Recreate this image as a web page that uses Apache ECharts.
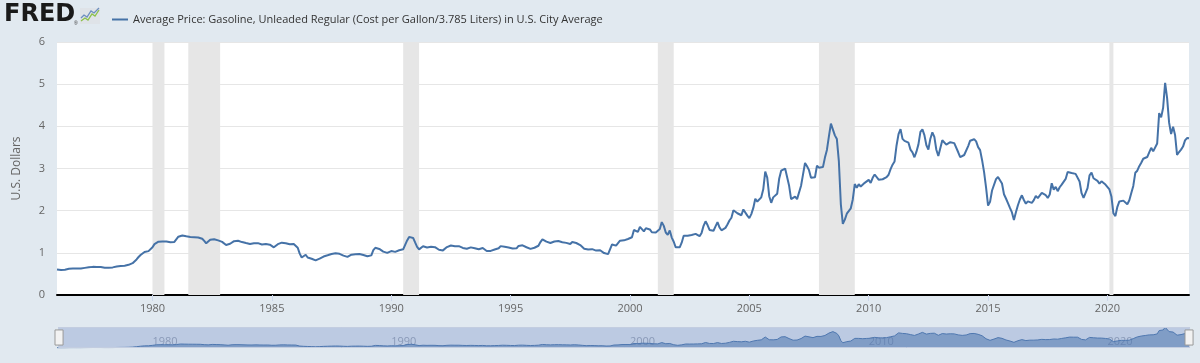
<!DOCTYPE html>
<html>
<head>
<meta charset="utf-8">
<script src="https://cdn.jsdelivr.net/npm/echarts@6/dist/echarts.min.js"></script>
<style>
html,body{margin:0;padding:0;background:#e1e9f0;}
#c{width:1200px;height:363px;}
</style>
</head>
<body>
<div id="c"></div>
<script>
// Monthly values, Jan 1976 .. Jun 2023 (U.S. Dollars per gallon)
const startYear = 1976;
const values = [
  // 1976
  0.605,0.600,0.594,0.592,0.600,0.616,0.623,0.628,0.630,0.629,0.629,0.626,
  // 1977
  0.627,0.637,0.643,0.651,0.659,0.665,0.667,0.667,0.666,0.665,0.664,0.663,
  // 1978
  0.648,0.647,0.647,0.649,0.655,0.663,0.674,0.682,0.688,0.690,0.695,0.705,
  // 1979
  0.716,0.730,0.755,0.802,0.844,0.901,0.949,0.988,1.020,1.028,1.041,1.065,
  // 1980
  1.131,1.207,1.252,1.264,1.266,1.269,1.271,1.267,1.257,1.250,1.250,1.258,
  // 1981
  1.298,1.382,1.417,1.412,1.400,1.391,1.382,1.376,1.376,1.371,1.369,1.365,
  // 1982
  1.358,1.334,1.284,1.225,1.237,1.309,1.331,1.323,1.307,1.295,1.283,1.260,
  // 1983
  1.230,1.187,1.152,1.215,1.259,1.277,1.288,1.285,1.274,1.255,1.241,1.231,
  // 1984
  1.216,1.209,1.210,1.227,1.236,1.229,1.212,1.196,1.203,1.209,1.207,1.193,
  // 1985
  1.148,1.131,1.159,1.205,1.231,1.241,1.242,1.229,1.216,1.204,1.207,1.208,
  // 1986
  1.194,1.120,0.981,0.888,0.923,0.955,0.890,0.843,0.860,0.831,0.821,0.821,
  // 1987
  0.862,0.905,0.912,0.934,0.941,0.958,0.971,0.995,0.990,0.976,0.976,0.961,
  // 1988
  0.933,0.913,0.904,0.930,0.955,0.955,0.967,0.987,0.974,0.957,0.949,0.930,
  // 1989
  0.918,0.926,0.940,1.065,1.119,1.114,1.092,1.057,1.029,1.027,0.999,0.980,
  // 1990
  1.042,1.037,1.023,1.044,1.061,1.088,1.084,1.190,1.294,1.378,1.377,1.354,
  // 1991
  1.247,1.143,1.082,1.104,1.156,1.160,1.127,1.140,1.143,1.122,1.134,1.123,
  // 1992
  1.073,1.054,1.058,1.079,1.136,1.179,1.174,1.158,1.158,1.154,1.159,1.136,
  // 1993
  1.117,1.108,1.098,1.112,1.129,1.130,1.109,1.097,1.085,1.127,1.113,1.070,
  // 1994
  1.043,1.051,1.045,1.064,1.080,1.086,1.109,1.159,1.163,1.143,1.140,1.127,
  // 1995
  1.104,1.102,1.093,1.107,1.164,1.191,1.178,1.144,1.133,1.122,1.094,1.096,
  // 1996
  1.121,1.133,1.168,1.255,1.321,1.297,1.265,1.240,1.234,1.236,1.270,1.282,
  // 1997
  1.279,1.269,1.251,1.240,1.236,1.225,1.208,1.256,1.264,1.233,1.216,1.184,
  // 1998
  1.140,1.098,1.069,1.077,1.094,1.087,1.083,1.053,1.041,1.061,1.052,0.994,
  // 1999
  0.987,0.969,1.004,1.199,1.201,1.170,1.229,1.288,1.305,1.296,1.311,1.329,
  // 2000
  1.301,1.369,1.541,1.506,1.498,1.617,1.593,1.510,1.582,1.559,1.555,1.489,
  // 2001
  1.472,1.484,1.447,1.564,1.729,1.640,1.482,1.427,1.531,1.362,1.263,1.131,
  // 2002
  1.139,1.130,1.241,1.407,1.421,1.404,1.412,1.423,1.422,1.449,1.448,1.394,
  // 2003
  1.473,1.641,1.748,1.659,1.542,1.514,1.524,1.628,1.728,1.603,1.535,1.494,
  // 2004
  1.592,1.672,1.766,1.833,2.009,2.041,1.939,1.898,1.891,2.029,2.010,1.882,
  // 2005
  1.823,1.918,2.065,2.283,2.216,2.176,2.316,2.506,2.927,2.785,2.343,2.186,
  // 2006
  2.315,2.310,2.401,2.757,2.947,2.917,2.999,2.985,2.589,2.272,2.241,2.334,
  // 2007
  2.274,2.285,2.592,2.860,3.130,3.052,2.961,2.782,2.789,2.793,3.069,3.020,
  // 2008
  3.047,3.033,3.258,3.441,3.764,4.065,4.090,3.786,3.698,3.173,2.151,1.689,
  // 2009
  1.787,1.928,1.949,2.056,2.265,2.631,2.543,2.627,2.574,2.561,2.660,2.621,
  // 2010
  2.731,2.659,2.780,2.858,2.869,2.736,2.736,2.745,2.704,2.795,2.852,2.985,
  // 2011
  3.091,3.167,3.546,3.816,3.933,3.702,3.654,3.639,3.612,3.448,3.384,3.266,
  // 2012
  3.399,3.572,3.868,3.927,3.792,3.552,3.451,3.707,3.856,3.749,3.445,3.296,
  // 2013
  3.319,3.670,3.711,3.566,3.590,3.623,3.628,3.602,3.562,3.385,3.272,3.278,
  // 2014
  3.320,3.363,3.532,3.659,3.692,3.695,3.643,3.507,3.436,3.197,2.912,2.548,
  // 2015
  2.120,2.210,2.479,2.489,2.748,2.798,2.794,2.643,2.389,2.289,2.180,2.066,
  // 2016
  1.959,1.780,1.962,2.129,2.264,2.365,2.253,2.166,2.220,2.248,2.185,2.251,
  // 2017
  2.350,2.299,2.320,2.421,2.399,2.366,2.302,2.383,2.650,2.500,2.564,2.462,
  // 2018
  2.555,2.618,2.593,2.753,2.918,2.911,2.893,2.890,2.873,2.886,2.691,2.414,
  // 2019
  2.302,2.310,2.533,2.839,2.902,2.768,2.790,2.705,2.639,2.697,2.650,2.620,
  // 2020
  2.636,2.503,2.338,1.938,1.871,2.091,2.219,2.220,2.238,2.196,2.152,2.247,
  // 2021
  2.420,2.587,2.898,2.948,3.056,3.138,3.231,3.253,3.272,3.384,3.491,3.406,
  // 2022
  3.413,3.592,4.312,4.213,4.440,5.032,4.668,4.087,3.817,3.990,3.794,3.324,
  // 2023
  3.391,3.448,3.520,3.666,3.723,3.716
];

// Month categories built from the start year
const months = values.map((v, i) => {
  const y = startYear + Math.floor(i / 12);
  const m = (i % 12) + 1;
  return y + '-' + (m < 10 ? '0' + m : m);
});

// NBER recession periods (shaded)
const recessions = [
  ['1980-01', '1980-07'],
  ['1981-07', '1982-11'],
  ['1990-07', '1991-03'],
  ['2001-03', '2001-11'],
  ['2007-12', '2009-06'],
  ['2020-02', '2020-04']
];

const yTicks = [0, 1, 2, 3, 4, 5, 6];

const seriesName = 'Average Price: Gasoline, Unleaded Regular (Cost per Gallon/3.785 Liters) in U.S. City Average';

const every5 = (idx, val) => val.slice(5) === '01' && (+val.slice(0, 4)) % 5 === 0;
const every10 = (idx, val) => val.slice(5) === '01' && (+val.slice(0, 4)) % 10 === 0;

const navMin = Math.min(...values) - 0.03;
const navMax = Math.max(...values) + 0.05;

const chart = echarts.init(document.getElementById('c'), null, {renderer: 'canvas'});
chart.setOption({
  animation: false,
  backgroundColor: '#e1e9f0',
  textStyle: {fontFamily: "'Open Sans', sans-serif"},
  graphic: [
    {type: 'text', left: 4, top: 3, style: {text: 'FRED', fontFamily: "'DejaVu Sans', sans-serif", fontWeight: 'bold', fontSize: 24, fill: '#1a1a1a'}},
    {type: 'text', left: 74, top: 21, style: {text: '®', fontSize: 5, fill: '#333'}},
    {type: 'rect', shape: {x: 80, y: 8, width: 20, height: 16}, style: {fill: '#dfe3e8'}},
    {type: 'polyline', shape: {points: [[81, 21], [85, 18], [88, 20], [92, 14], [95, 16], [99, 10]]}, style: {stroke: '#8cc04a', lineWidth: 1.3, fill: null}},
    {type: 'polyline', shape: {points: [[81, 18], [84, 15], [87, 17], [91, 11], [94, 13], [99, 8]]}, style: {stroke: '#6c8ebf', lineWidth: 1.3, fill: null}}
  ],
  legend: {
    left: 107, top: 9,
    icon: 'rect', itemWidth: 16, itemHeight: 2, itemGap: 6,
    textStyle: {fontFamily: "'Open Sans', sans-serif", fontSize: 11, color: '#333'},
    data: [seriesName]
  },
  grid: [
    {left: 57, right: 11, top: 42, bottom: 68, show: true, backgroundColor: '#ffffff', borderWidth: 0},
    {left: 57, right: 11, top: 327, height: 21, show: false}
  ],
  xAxis: [
    {
      type: 'category', data: months, boundaryGap: false, gridIndex: 0,
      axisLine: {show: true, lineStyle: {color: '#000000', width: 2}},
      axisTick: {show: true, interval: every5, length: 6, lineStyle: {color: '#ccd6eb'}},
      axisLabel: {interval: every5, formatter: v => v.slice(0, 4), color: '#666666', fontSize: 11, margin: 8},
      splitLine: {show: false}
    },
    {
      type: 'category', data: months, boundaryGap: false, gridIndex: 1,
      axisLine: {show: false}, axisTick: {show: false},
      axisLabel: {inside: true, interval: every10, formatter: v => v.slice(0, 4), color: '#9aa3b3', fontSize: 11, align: 'left', margin: 1},
      splitLine: {show: false}
    }
  ],
  yAxis: [
    {
      type: 'value', min: yTicks[0], max: yTicks[yTicks.length - 1], interval: 1, gridIndex: 0,
      name: 'U.S. Dollars', nameLocation: 'middle', nameGap: 34, nameRotate: 90,
      nameTextStyle: {color: '#666666', fontSize: 12},
      axisLine: {show: false}, axisTick: {show: false},
      axisLabel: {color: '#666666', fontSize: 11, margin: 12},
      splitLine: {show: true, lineStyle: {color: '#e6e6e6', width: 1}}
    },
    {type: 'value', gridIndex: 1, show: false, min: navMin, max: navMax}
  ],
  dataZoom: [{
    type: 'slider', xAxisIndex: 0, start: 0, end: 100,
    left: 57, right: 11, top: 327, height: 21,
    backgroundColor: 'rgba(0,0,0,0)',
    borderColor: '#c3cde0',
    fillerColor: 'rgba(102,133,194,0.3)',
    showDetail: false, brushSelect: false, moveHandleSize: 0,
    showDataShadow: false,
    handleIcon: 'path://M0,0 L8,0 L8,15 L0,15 Z',
    handleSize: '72%',
    handleStyle: {color: '#f2f2f2', borderColor: '#999999', borderWidth: 1}
  }],
  series: [{
    name: seriesName,
    type: 'line', xAxisIndex: 0, yAxisIndex: 0,
    data: values, showSymbol: false, symbol: 'none',
    lineStyle: {color: '#4572a7', width: 2}, itemStyle: {color: '#4572a7'},
    markArea: {
      silent: true,
      itemStyle: {color: '#e6e6e6'},
      data: recessions.map(r => [{xAxis: r[0]}, {xAxis: r[1]}])
    }
  }, {
    name: 'navigator',
    type: 'line', xAxisIndex: 1, yAxisIndex: 1,
    data: values, showSymbol: false, symbol: 'none', silent: true,
    lineStyle: {color: '#4572a7', width: 1},
    areaStyle: {color: '#4572a7', opacity: 0.55, origin: 'start'}
  }]
});
</script>
</body>
</html>
